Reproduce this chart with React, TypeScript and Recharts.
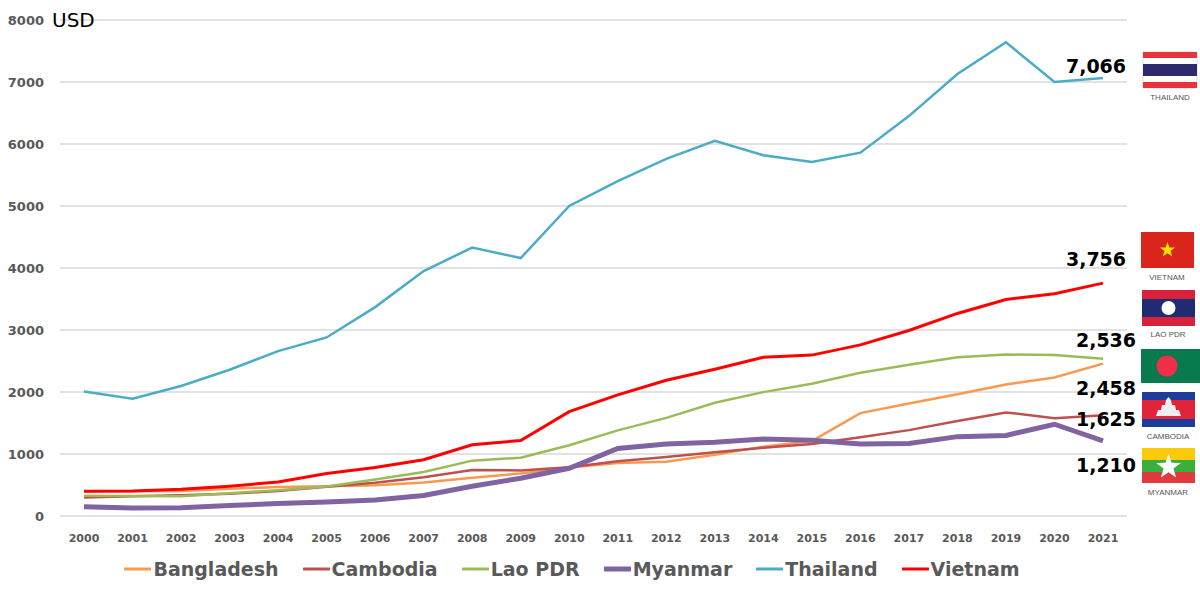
import { LineChart, Line, XAxis, YAxis, CartesianGrid, Legend, LabelList } from 'recharts'

const years = ['2000', '2001', '2002', '2003', '2004', '2005', '2006', '2007', '2008', '2009', '2010',
    '2011', '2012', '2013', '2014', '2015', '2016', '2017', '2018', '2019', '2020', '2021']

const bangladesh = [395, 400, 405, 440, 466, 481, 495, 541, 616, 686, 781, 856, 876, 987, 1119, 1210, 1659, 1816, 1964, 2122, 2234, 2458]
const cambodia = [300, 318, 336, 358, 403, 471, 536, 624, 743, 735, 786, 882, 950, 1028, 1099, 1163, 1270, 1385, 1533, 1671, 1577, 1625]
const laoPdr = [325, 324, 319, 365, 417, 477, 590, 711, 893, 940, 1141, 1381, 1582, 1826, 1998, 2134, 2309, 2439, 2560, 2605, 2595, 2536]
const myanmar = [150, 130, 135, 170, 200, 225, 260, 330, 480, 610, 770, 1090, 1160, 1190, 1240, 1220, 1160, 1170, 1280, 1300, 1480, 1210]
const thailand = [2008, 1893, 2096, 2359, 2660, 2880, 3369, 3950, 4330, 4160, 5000, 5400, 5760, 6050, 5820, 5710, 5860, 6450, 7130, 7640, 7000, 7066]
const vietnam = [400, 405, 430, 481, 547, 687, 784, 907, 1149, 1218, 1684, 1954, 2190, 2367, 2559, 2595, 2760, 2992, 3267, 3491, 3586, 3756]

const yTicks = [0, 1000, 2000, 3000, 4000, 5000, 6000, 7000, 8000]

const data = years.map((year, i) => ({
    year,
    Bangladesh: bangladesh[i],
    Cambodia: cambodia[i],
    'Lao PDR': laoPdr[i],
    Myanmar: myanmar[i],
    Thailand: thailand[i],
    Vietnam: vietnam[i],
}))

// dx/dy: where the end-of-line value sits relative to the last point
const series = [
    { key: 'Bangladesh', color: '#F79A50', width: 2.5, dx: 3, dy: 24 },
    { key: 'Cambodia', color: '#C0504D', width: 2.5, dx: 3, dy: 4 },
    { key: 'Lao PDR', color: '#9BBB59', width: 2.5, dx: 3, dy: -19 },
    { key: 'Myanmar', color: '#8064A2', width: 5, dx: 3, dy: 24 },
    { key: 'Thailand', color: '#4BACC6', width: 2.5, dx: -7, dy: -12 },
    { key: 'Vietnam', color: '#FF0000', width: 3, dx: -7, dy: -24 },
]

const lastIndex = years.length - 1

function endLabel(dx: number, dy: number) {
    return (props: any) => {
        const { x, y, value, index } = props
        if (index !== lastIndex) return null
        return (
            <text x={x + dx} y={y + dy} textAnchor="middle" dominantBaseline="central"
                fontFamily="DejaVu Sans" fontWeight="bold" fontSize={19} fill="#000">
                {Number(value).toLocaleString('en-US')}
            </text>
        )
    }
}

function LegendContent(props: any) {
    const { payload } = props
    return (
        <div style={{ display: 'flex', justifyContent: 'center', gap: 24, marginLeft: 17, paddingTop: 12 }}>
            {payload.map((p: any) => {
                const s = series.find((d) => d.key === p.value)
                return (
                    <div key={p.value} style={{ display: 'flex', alignItems: 'center' }}>
                        <svg width={27} height={10}>
                            <line x1={1} y1={5} x2={26} y2={5} stroke={p.color} strokeWidth={s && s.width > 4 ? 5 : 3} strokeLinecap="round" />
                        </svg>
                        <span style={{ fontFamily: 'DejaVu Sans', fontWeight: 'bold', fontSize: 19, color: '#595959', marginLeft: 2 }}>
                            {p.value}
                        </span>
                    </div>
                )
            })}
        </div>
    )
}

function starPoints(cx: number, cy: number, r: number) {
    const pts: string[] = []
    for (let i = 0; i < 10; i++) {
        const rr = i % 2 === 0 ? r : r * 0.4
        const a = -Math.PI / 2 + (i * Math.PI) / 5
        pts.push(`${cx + rr * Math.cos(a)},${cy + rr * Math.sin(a)}`)
    }
    return pts.join(' ')
}

const capStyle = { fontFamily: 'Liberation Sans', fontSize: 8, fill: '#555' }

function Flags() {
    return (
        <svg width={1200} height={593} style={{ position: 'absolute', left: 0, top: 0, pointerEvents: 'none' }}>
            {/* Thailand */}
            <g>
                <rect x={1143} y={52} width={54} height={36} fill="#fff" stroke="#ddd" />
                <rect x={1143} y={52} width={54} height={6} fill="#E8323C" />
                <rect x={1143} y={64} width={54} height={12} fill="#2D2A6E" />
                <rect x={1143} y={82} width={54} height={6} fill="#E8323C" />
                <text x={1170} y={100} textAnchor="middle" {...capStyle}>THAILAND</text>
            </g>
            {/* Vietnam */}
            <g>
                <rect x={1141} y={232} width={53} height={36} fill="#DA251D" />
                <polygon points={starPoints(1167.5, 250, 8)} fill="#FFE000" />
                <text x={1167} y={280} textAnchor="middle" {...capStyle}>VIETNAM</text>
            </g>
            {/* Lao PDR */}
            <g>
                <rect x={1142} y={290} width={53} height={36} fill="#D8213A" />
                <rect x={1142} y={299} width={53} height={18} fill="#1E2D73" />
                <circle cx={1168.5} cy={308} r={7} fill="#fff" />
                <text x={1168} y={337} textAnchor="middle" {...capStyle}>LAO PDR</text>
            </g>
            {/* Bangladesh */}
            <g>
                <rect x={1141} y={349} width={59} height={34} fill="#087A4E" />
                <circle cx={1167} cy={366} r={10.5} fill="#F0304A" />
            </g>
            {/* Cambodia */}
            <g>
                <rect x={1142} y={392} width={53} height={35} fill="#1E3C9A" />
                <rect x={1142} y={400} width={53} height={19} fill="#E2243A" />
                <polygon points="1156,416 1158,410 1161,410 1162,405 1165,405 1166,400 1168.5,397 1171,400 1172,405 1175,405 1176,410 1179,410 1181,416" fill="#eee" />
                <text x={1168} y={439} textAnchor="middle" {...capStyle}>CAMBODIA</text>
            </g>
            {/* Myanmar */}
            <g>
                <rect x={1142} y={448} width={53} height={12} fill="#FBCB0B" />
                <rect x={1142} y={460} width={53} height={12} fill="#3CAE3C" />
                <rect x={1142} y={472} width={53} height={11} fill="#E13A3E" />
                <polygon points={starPoints(1168.5, 467, 13)} fill="#fff" />
                <text x={1168} y={495} textAnchor="middle" {...capStyle}>MYANMAR</text>
            </g>
        </svg>
    )
}

export default function App() {
    return (
        <div style={{ position: 'absolute', left: 0, top: 0, width: 1200, height: 593, background: '#fff' }}>
            <LineChart width={1200} height={593} data={data} margin={{ top: 20, right: 73, left: 0, bottom: 0 }}>
                <CartesianGrid vertical={false} stroke="#D9D9D9" strokeWidth={1.5} />
                <XAxis
                    dataKey="year"
                    height={30}
                    padding={{ left: 24, right: 24 }}
                    axisLine={false}
                    tickLine={false}
                    tickMargin={12}
                    tick={{ fontFamily: 'DejaVu Sans', fontWeight: 'bold', fontSize: 11, fill: '#595959' }}
                    interval={0}
                />
                <YAxis
                    width={60}
                    domain={[0, 8000]}
                    ticks={yTicks}
                    axisLine={false}
                    tickLine={false}
                    tickSize={8}
                    tickMargin={8}
                    tick={{ fontFamily: 'DejaVu Sans', fontWeight: 'bold', fontSize: 13, fill: '#595959' }}
                />
                <Legend verticalAlign="bottom" height={47} content={<LegendContent />} />
                {series.map((s) => (
                    <Line
                        key={s.key}
                        type="linear"
                        dataKey={s.key}
                        stroke={s.color}
                        strokeWidth={s.width}
                        dot={false}
                        isAnimationActive={false}
                    >
                        <LabelList dataKey={s.key} content={endLabel(s.dx, s.dy)} />
                    </Line>
                ))}
            </LineChart>
            <div style={{ position: 'absolute', left: 52, top: 8, fontFamily: 'DejaVu Sans', fontSize: 20, color: '#000' }}>
                USD
            </div>
            <Flags />
        </div>
    )
}
